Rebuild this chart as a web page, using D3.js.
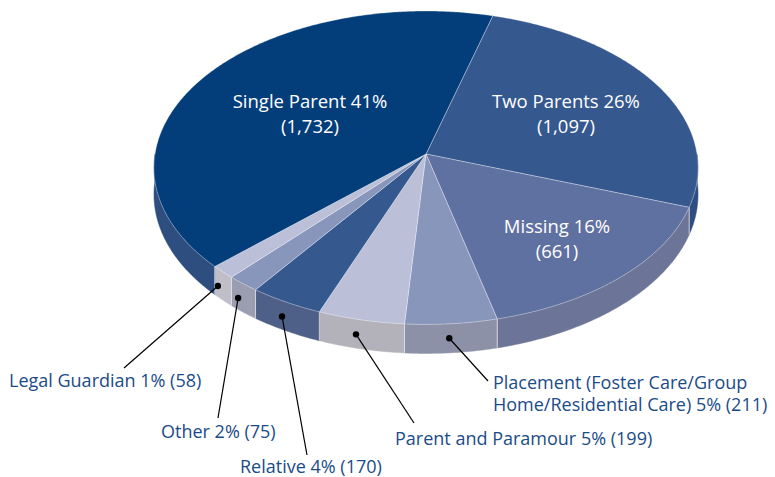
<!DOCTYPE html>
<html>
<head>
<meta charset="utf-8">
<script src="https://cdn.jsdelivr.net/npm/d3@7"></script>
<style>
    body { margin: 0; background: #ffffff; }
    text { font-family: "Open Sans", sans-serif; }
</style>
</head>
<body>
<div id="chart"></div>
<script>
// Data, clockwise from the top
const categories = ["Two Parents", "Missing", "Placement (Foster Care/Group Home/Residential Care)",
    "Parent and Paramour", "Relative", "Other", "Legal Guardian", "Single Parent"];
const counts = [1097, 661, 211, 199, 170, 75, 58, 1732];
const topColors = ["#35588f", "#5f71a0", "#8896bb", "#bbc0d8", "#35588f", "#8896bb", "#bbc0d8", "#033e7b"];
const sideColors = ["#2f4d80", "#6c7597", "#8d91a8", "#b3b2bb", "#4e5f88", "#9b9db0", "#c0bfc9", "#2e4e80"];

// Pie geometry (perspective tilted disc)
const width = 775, height = 477;
const cx = 426, cy = 154;
const R = 271, Ry = 155.5, k = 0.0874, depth = 26.5;
const startDeg = 15.5;

// Label layout: inside labels (centre of block) and outside labels with leader lines
const insideLabels = {
    "Single Parent": {x: 310, y: 102},
    "Two Parents": {x: 566, y: 102},
    "Missing": {x: 557, y: 227}
};
const outsideLabels = {
    "Legal Guardian": {x: 9, y: 387, lx: 124, ly: 368, dx: -5},
    "Other": {x: 161, y: 438, lx: 218, ly: 418, dx: -5},
    "Relative": {x: 240, y: 473, lx: 307, ly: 455, dx: -4},
    "Parent and Paramour": {x: 395, y: 445, lx: 414, ly: 423, dx: -5},
    "Placement (Foster Care/Group Home/Residential Care)": {x: 493, y: 389, lx: 488, ly: 381, dx: -2,
        lines: ["Placement (Foster Care/Group", "Home/Residential Care) {p} ({n})"]}
};

const data = categories.map((c, i) => ({name: c, value: counts[i], top: topColors[i], side: sideColors[i]}));
const total = d3.sum(counts);
const pct = d3.format(".0%");
const num = d3.format(",");

const pie = d3.pie()
    .value(d => d.value)
    .sort(null)
    .startAngle(startDeg * Math.PI / 180)
    .endAngle(startDeg * Math.PI / 180 + 2 * Math.PI);
const arcs = pie(data);

// Project an angle (d3 convention, clockwise from top) on the disc to the screen
function proj(a, r, z) {
    const X = r * Math.sin(a), Y = -r * Math.cos(a);
    const s = 1 / (1 - k * Y);
    return [cx + R * X * s, cy + Ry * Y * s + z * s];
}

function arcPoints(a0, a1, r, z) {
    const n = Math.max(2, Math.ceil(Math.abs(a1 - a0) / 0.01));
    return d3.range(n + 1).map(i => proj(a0 + (a1 - a0) * i / n, r, z));
}

const line = d3.line();

const svg = d3.select("#chart")
    .append("svg")
    .attr("width", width)
    .attr("height", height);

// Front walls: visible between 90 and 270 degrees
const front0 = Math.PI / 2, front1 = 3 * Math.PI / 2;
arcs.forEach(d => {
    [0, 2 * Math.PI].forEach(shift => {
        const a0 = Math.max(d.startAngle, front0 + shift);
        const a1 = Math.min(d.endAngle, front1 + shift);
        if (a1 <= a0) return;
        const pts = arcPoints(a0, a1, 1, 0).concat(arcPoints(a1, a0, 1, depth));
        svg.append("path")
            .attr("d", line(pts) + "Z")
            .attr("fill", d.data.side)
            .attr("stroke", d.data.side)
            .attr("stroke-width", 0.5);
    });
});

// Separators on the wall
arcs.forEach(d => {
    const a = d.startAngle % (2 * Math.PI);
    if (a > front0 && a < front1) {
        svg.append("path")
            .attr("d", line([proj(a, 1, 0), proj(a, 1, depth)]))
            .attr("stroke", "#e4e4ea")
            .attr("stroke-width", 0.8);
    }
});

// Top faces
svg.selectAll("path.top")
    .data(arcs)
    .enter()
    .append("path")
    .attr("class", "top")
    .attr("d", d => line([[cx, cy]].concat(arcPoints(d.startAngle, d.endAngle, 1, 0))) + "Z")
    .attr("fill", d => d.data.top)
    .attr("stroke", "rgba(255,255,255,0.45)")
    .attr("stroke-width", 0.7)
    .attr("stroke-linejoin", "round");

// Inside labels
arcs.filter(d => insideLabels[d.data.name]).forEach(d => {
    const p = insideLabels[d.data.name];
    const t = svg.append("text")
        .attr("text-anchor", "middle")
        .attr("fill", "#ffffff")
        .attr("font-size", 18.5);
    t.append("tspan").attr("x", p.x).attr("y", p.y + 6)
        .text(`${d.data.name} ${pct(d.data.value / total)}`);
    t.append("tspan").attr("x", p.x).attr("y", p.y + 31)
        .text(`(${num(d.data.value)})`);
});

// Outside labels with leader lines
arcs.filter(d => outsideLabels[d.data.name]).forEach(d => {
    const p = outsideLabels[d.data.name];
    const mid = (d.startAngle + d.endAngle) / 2;
    const dot = proj(mid, 1, depth / 2);
    dot[0] += p.dx;
    svg.append("line")
        .attr("x1", dot[0]).attr("y1", dot[1])
        .attr("x2", p.lx).attr("y2", p.ly)
        .attr("stroke", "#000000")
        .attr("stroke-width", 1.2);
    svg.append("circle")
        .attr("cx", dot[0]).attr("cy", dot[1])
        .attr("r", 3.2)
        .attr("fill", "#000000");
    const pText = pct(d.data.value / total), nText = num(d.data.value);
    const lines = p.lines
        ? p.lines.map(l => l.replace("{p}", pText).replace("{n}", nText))
        : [`${d.data.name} ${pText} (${nText})`];
    const t = svg.append("text")
        .attr("fill", "#1b4b88")
        .attr("font-size", 18);
    lines.forEach((l, i) => {
        t.append("tspan").attr("x", p.x).attr("y", p.y + i * 22).text(l);
    });
});
</script>
</body>
</html>
